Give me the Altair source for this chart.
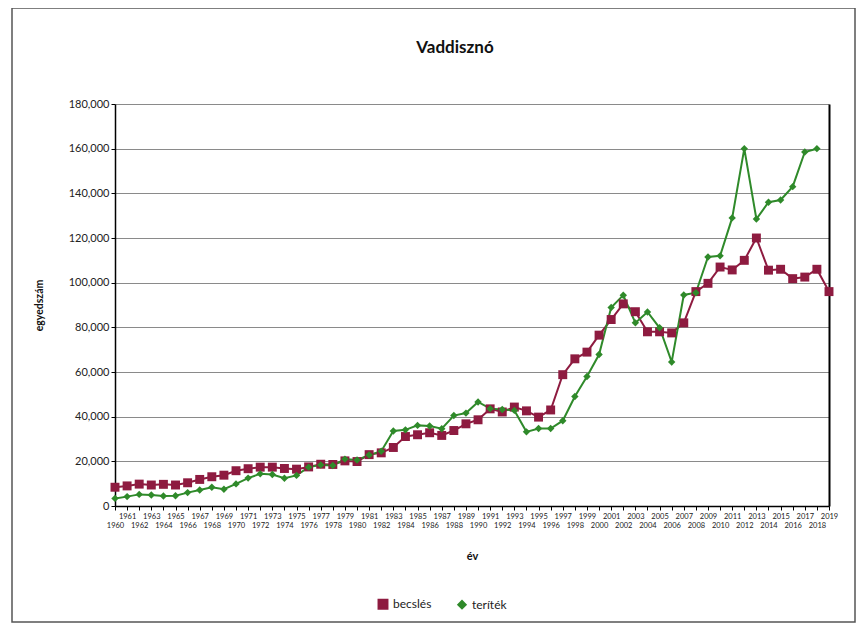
import altair as alt
import pandas as pd

years = list(range(1960, 2020))

becsles = [8400, 9000, 9800, 9400, 9700, 9400, 10400, 11900, 13100, 13800,
           15800, 16700, 17400, 17400, 16800, 16500, 17500, 18700, 18600, 20200,
           19900, 23000, 23800, 26200, 31100, 31900, 32800, 31600, 33800, 36800,
           38600, 43500, 42100, 44300, 42600, 39800, 43000, 58800, 65900, 68900,
           76500, 83500, 90500, 87000, 78000, 78000, 77500, 82000, 96000, 99700,
           107000, 105700, 110000, 120000, 105600, 106000, 101800, 102500, 106000, 96000]

teritek = [3400, 4200, 5200, 4900, 4500, 4600, 6000, 7200, 8400, 7500,
           9900, 12500, 14400, 14100, 12400, 13700, 17400, 18400, 18100, 21000,
           20600, 22800, 24500, 33600, 34100, 36100, 35800, 34600, 40500, 41600,
           46600, 43600, 43200, 42800, 33200, 34700, 34700, 38200, 49000, 58000,
           67800, 88900, 94400, 82000, 86900, 79800, 64500, 94500, 95500, 111500,
           112000, 129000, 160000, 128500, 136000, 137000, 143000, 158500, 160000, None]

series_names = ["becslés", "teríték"]
series_colors = ["#8E1B40", "#2F8A2A"]
series_shapes = ["square", "diamond"]
series_sizes = [80, 55]

rows = []
for y, v in zip(years, becsles):
    rows.append({"ev": y, "ertek": v, "sorozat": series_names[0]})
for y, v in zip(years, teritek):
    if v is not None:
        rows.append({"ev": y, "ertek": v, "sorozat": series_names[1]})
df = pd.DataFrame(rows)

W, H = 714, 402
FONT = "Lato"

x_axis = alt.Axis(values=years, format="d", title="év",
                  labelFontSize=7.5, labelColor="#222", labelOverlap=False,
                  labelFlush=False, labelAngle=0, labelBound=False,
                  labelPadding={"condition": {"test": "datum.value % 2 == 0", "value": 11}, "value": 2},
                  tickSize=4, tickColor="#000", domainColor="#000", domainWidth=1.5,
                  grid=False, titleFontSize=11, titleFontWeight="bold",
                  titlePadding=22, titleColor="#111")
x_scale = alt.Scale(domain=[1960, 2019], nice=False, zero=False)
y_scale = alt.Scale(domain=[0, 180000], nice=False)

legend = alt.Legend(title=None, orient="none", direction="horizontal",
                    legendX=262, legendY=494)

base = alt.Chart(df)

lines = base.mark_line(strokeWidth=2).encode(
    x=alt.X("ev:Q", scale=x_scale, axis=x_axis),
    y=alt.Y("ertek:Q", scale=y_scale,
            axis=alt.Axis(values=list(range(0, 180001, 20000)), format=",d",
                          title="egyedszám", labelFontSize=11, labelColor="#222",
                          tickSize=4, tickColor="#000", domainColor="#000", domainWidth=1.5,
                          gridColor="#8a8a8a", gridWidth=1.2,
                          titleFontSize=10.5, titleFontWeight="bold", titlePadding=24,
                          titleColor="#111")),
    color=alt.Color("sorozat:N", scale=alt.Scale(domain=series_names, range=series_colors),
                    legend=legend),
    detail="sorozat:N",
)

points = base.mark_point(filled=True, opacity=1).encode(
    x=alt.X("ev:Q", scale=x_scale, axis=x_axis),
    y=alt.Y("ertek:Q", scale=y_scale,
            axis=alt.Axis(orient="right", labels=False, ticks=False, grid=False,
                          title=None, domainColor="#000", domainWidth=2)),
    color=alt.Color("sorozat:N", scale=alt.Scale(domain=series_names, range=series_colors),
                    legend=legend),
    shape=alt.Shape("sorozat:N", scale=alt.Scale(domain=series_names, range=series_shapes),
                    legend=legend),
    size=alt.Size("sorozat:N", scale=alt.Scale(domain=series_names, range=series_sizes),
                  legend=None),
)

frame = alt.Chart(pd.DataFrame({"k": [0]})).mark_rect(
    fill=None, stroke="#555", strokeWidth=1.5
).encode(x=alt.value(-103), x2=alt.value(740), y=alt.value(-96), y2=alt.value(518))

chart = alt.layer(lines, points, frame).resolve_axis(y="independent").properties(
    width=W, height=H,
    title=alt.Title("Vaddisznó", fontSize=17, fontWeight="bold", font=FONT,
                    color="#111", offset=-50, dx=-17, frame="group"),
    autosize=alt.AutoSizeParams(type="none"),
    padding={"left": 107, "top": 96, "right": 30, "bottom": 117},
).configure(font=FONT).configure_view(stroke=None).configure_legend(
    labelFontSize=12, labelColor="#222", symbolStrokeWidth=2, columnPadding=22,
    symbolSize=70, labelFont=FONT
)

chart.save("out.html", embed_options={"renderer": "svg", "actions": False})
